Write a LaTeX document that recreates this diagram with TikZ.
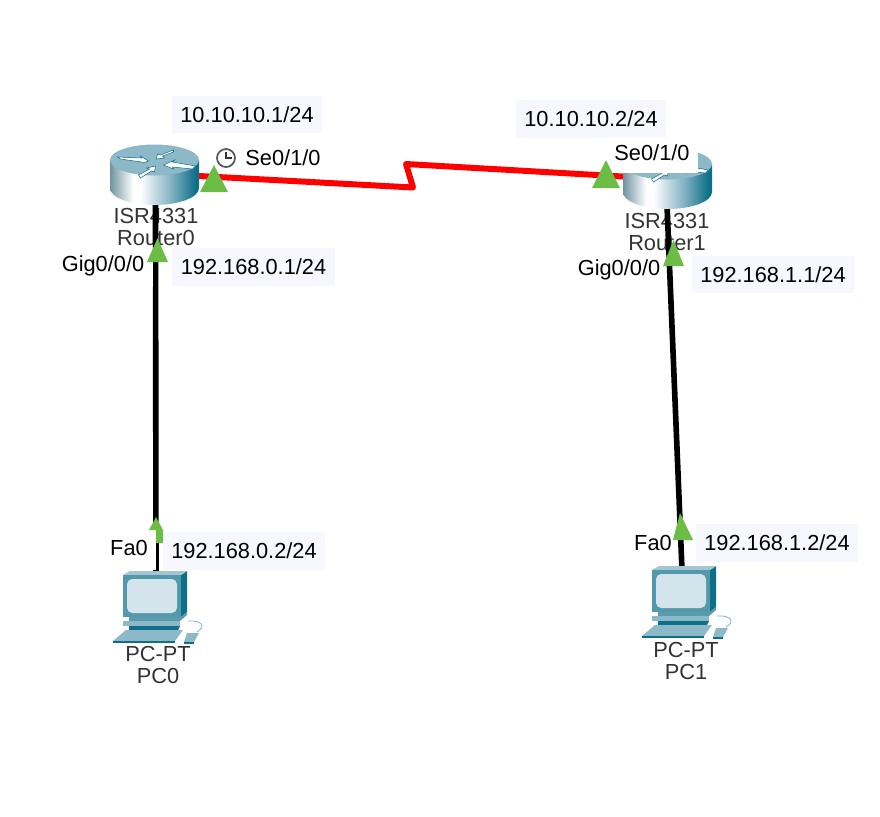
\documentclass[tikz,border=0pt]{standalone}
\usepackage{fontspec}
\setmainfont{Liberation Sans}
\usepackage{xcolor}
\usetikzlibrary{calc, positioning}
\definecolor{linkGreen}{RGB}{108, 189, 69}
\definecolor{noteBg}{RGB}{247, 248, 255}
\definecolor{devTeal}{RGB}{140, 184, 199}
\definecolor{devDark}{RGB}{14, 112, 136}
\definecolor{devPale}{RGB}{212, 228, 236}
\pgfdeclarehorizontalshading{routerSide}{100bp}{
  color(0bp)=(devTeal!80!black); color(25bp)=(devTeal!80!black); color(38bp)=(white); color(42bp)=(white);
  color(58bp)=(devTeal); color(73bp)=(devDark); color(100bp)=(devDark)}
\tikzset{
  note/.style={fill=noteBg, minimum width=#1, minimum height=21.5pt, inner sep=0pt},
  port/.style={inner sep=0pt},
  devlabel/.style={inner sep=0pt, text=black!80, align=center},
  ethernet/.style={line width=3.2pt, black},
  serial/.style={line width=3.4pt, red, line join=round},
  pics/routericon/.style={code={
    \shade[shading=routerSide] (-44.5,0) -- (-44.5,28) arc[start angle=180, end angle=0, x radius=44.5, y radius=17]
      -- (44.5,0) -- cycle;
    \fill[devTeal] (0,0) ellipse[x radius=44.5, y radius=15.5];
    % four arrows on the top
    \fill[white, draw=devDark, line width=0.3pt] (-37,-3) -- (-13,-2) -- (-14,-4) -- (-6,1) -- (-12,3) -- (-13,2) -- (-34,-1) -- cycle;
    \fill[white, draw=devDark, line width=0.3pt] (19,-10) -- (6,-5) -- (3,-6) -- (2,-1) -- (10,-2) -- (8,-4) -- (19,-8) -- cycle;
    \fill[white, draw=devDark, line width=0.3pt] (41,6) -- (18,2) -- (20,0) -- (9,5) -- (19,9) -- (18,7) -- (38,9) -- cycle;
    \fill[white, draw=devDark, line width=0.3pt] (-16,15) -- (-5,9) -- (-8,8) -- (1,6) -- (0,12) -- (-3,11) -- (-14,18) -- cycle;
  }},
  pics/pcicon/.style={code={
    % monitor
    \fill[devDark] (58,0) -- (64,-4) -- (64,37) -- (58,42) -- cycle;
    \fill[devTeal!80!white] (0,0) -- (7,-4) -- (64,-4) -- (58,0) -- cycle;
    \fill[devTeal!55!devDark] (0,0) rectangle (58,42);
    \fill[devPale, rounded corners=3pt] (4,4) rectangle (54,38);
    % stand
    \fill[devTeal!60!devDark] (6,42) -- (58,42) -- (64,37) -- (64,40) -- (57,46) -- (6,46) -- cycle;
    \fill[devTeal] (0,46) -- (57,46) -- (57,51) -- (0,51) -- cycle;
    \fill[devDark] (6,51) -- (57,51) -- (55,55) -- (6,55) -- cycle;
    % keyboard
    \fill[devTeal] (3,55) -- (60,55) -- (52,66) -- (-10,66) -- cycle;
    \fill[devDark] (-10,66) rectangle (52,68);
    % mouse and its cable
    \fill[devTeal] (64,58) -- (76,58) -- (71,67) -- (61,67) -- cycle;
    \fill[devDark] (61,67) -- (71,67) -- (71,69) -- (61,69) -- cycle;
    \draw[devTeal, line width=0.5pt] (65,46) .. controls (78,45) and (84,51) .. (74,57);
  }}
}
\begin{document}
\begin{tikzpicture}[x=0.02cm, y=-0.02cm, font=\fontsize{12.4}{14}\selectfont]
  \useasboundingbox (0,0) rectangle (880,816);

  % address notes
  \node[note=85.3pt] (note0) at (247,114.5) {10.10.10.1/24};
  \node[note=92.7pt] (note1) at (253.5,267) {192.168.0.1/24};
  \node[note=85.3pt] (note2) at (591,119) {10.10.10.2/24};
  \node[note=92.2pt] (note3) at (773,274.5) {192.168.1.1/24};
  \node[note=92.7pt] (note4) at (244,551) {192.168.0.2/24};
  \node[note=92.2pt] (note5) at (777,543) {192.168.1.2/24};

  % device captions, the links run over them
  \node[devlabel] (cap0) at (156,227) {ISR4331\\[-2pt]Router0};
  \node[devlabel] (cap1) at (667,232) {ISR4331\\[-2pt]Router1};
  \node[devlabel] (cap2) at (158,665) {PC-PT\\[-2pt]PC0};
  \node[devlabel] (cap3) at (686,661) {PC-PT\\[-2pt]PC1};

  \coordinate (Router0) at (154.5,160);
  \coordinate (Router1) at (667.5,164);
  \coordinate (PC0) at (123,575);
  \coordinate (PC1) at (652,570);
  \coordinate (eth0) at (155.5,200);
  \coordinate (eth1) at (667,205);
  \coordinate (jack0) at (156,574);
  \coordinate (jack1) at (682,570);
  \coordinate (ser0) at (190,175.5);
  \coordinate (ser1) at (640,177.5);
  \coordinate (zigA) at (413,187.5);
  \coordinate (zigB) at (406,164);

  % links
  \draw[ethernet] (eth0) -- (jack0);
  \draw[ethernet] (eth1) -- (jack1);
  \draw[serial] (ser0) -- (zigA) -- (zigB) -- (ser1);

  % devices
  \pic at (Router0) {routericon};
  \pic at (Router1) {routericon};
  \pic at (PC0) {pcicon};
  \pic at (PC1) {pcicon};

  % white backs of the port labels
  \fill[white] (607,137) rectangle (698,173);
  \fill[white] (108,530) rectangle (156,570);
  \fill[white] (60,250) rectangle (153,287);
  \node[port] (se1) at (652,153) {Se0/1/0};
  \node[port] (se0) at (283,158) {Se0/1/0};
  \node[port] (gig0) at (103,266) {Gig0/0/0};
  \node[port] (gig1) at (619,270) {Gig0/0/0};
  \node[port] (fa0) at (129,548) {Fa0};
  \node[port] (fa1) at (653,543) {Fa0};

  % link lights
  \fill[linkGreen] (200,192) -- (214,165) -- (228,192) -- cycle;
  \fill[linkGreen] (592,188) -- (606,160) -- (620,188) -- cycle;
  \fill[linkGreen] (147,262) -- (157.5,238) -- (168,262) -- cycle;
  \fill[linkGreen] (663,266) -- (673.5,240) -- (684,266) -- cycle;
  \fill[linkGreen] (149,530) -- (156,517) -- (163,530) -- (163,543) -- (156,543) -- (156,530) -- cycle;
  \fill[linkGreen] (673,540) -- (680,513) -- (693,540) -- cycle;

  % clock
  \draw[black!65, line width=1pt, fill=white] (226,158) circle[radius=9];
  \draw[black!80, line width=0.8pt] (226,152) -- (226,158) -- (232,158);
\end{tikzpicture}
\end{document}
